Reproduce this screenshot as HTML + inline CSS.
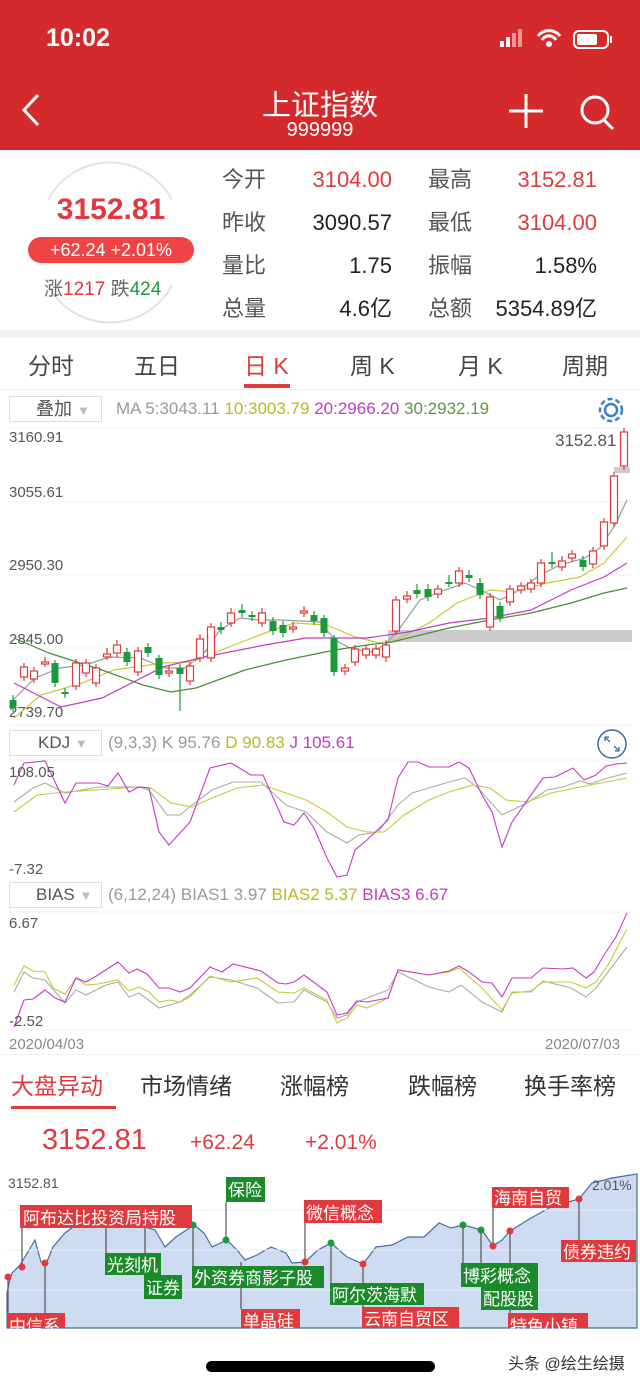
<!DOCTYPE html>
<html><head><meta charset="utf-8"><style>
*{margin:0;padding:0;box-sizing:border-box}
body{width:640px;height:1386px;background:#fff;font-family:"Liberation Sans","Noto Sans CJK SC",sans-serif;position:relative;overflow:hidden}
.a{position:absolute;white-space:nowrap}
</style></head><body>
<div class="a" style="left:0;top:0;width:640px;height:150px;background:#d42a2c"></div>
<div class="a" style="left:46px;top:24px;font-size:25px;color:#fff;font-weight:bold">10:02</div>
<svg class="a" style="left:500px;top:28px" width="120" height="24">
<rect x="0" y="13" width="4" height="6" fill="#fff"/><rect x="6" y="9" width="4" height="10" fill="#fff"/><rect x="12" y="5" width="4" height="14" fill="#fff" opacity=".5"/><rect x="18" y="1" width="4" height="18" fill="#fff" opacity=".5"/>
<path d="M38 8a14 14 0 0 1 22 0M42 12a8 8 0 0 1 14 0" stroke="#fff" stroke-width="3" fill="none"/><circle cx="49" cy="16" r="3" fill="#fff"/>
<rect x="74" y="3" width="34" height="17" rx="5" stroke="#fff" stroke-width="2" fill="none"/><rect x="77" y="6" width="20" height="11" rx="2" fill="#fff"/><rect x="110" y="8" width="2" height="7" fill="#fff"/></svg>
<svg class="a" style="left:18px;top:92px" width="30" height="36"><path d="M20 3L6 18l14 15" stroke="#fff" stroke-width="3" fill="none"/></svg>
<div class="a" style="left:0;width:640px;top:82px;text-align:center;font-size:29px;color:#fff">上证指数</div>
<div class="a" style="left:0;width:640px;top:119px;text-align:center;font-size:20px;color:#fff">999999</div>
<svg class="a" style="left:508px;top:92px" width="120" height="40"><path d="M18 2v34M1 19h34" stroke="#fff" stroke-width="3"/><circle cx="87" cy="18" r="13" stroke="#fff" stroke-width="3" fill="none"/><path d="M96 28l9 9" stroke="#fff" stroke-width="3"/></svg>

<svg class="a" style="left:30px;top:160px" width="160" height="165"><path d="M18 40A70 70 0 0 1 142 40M18 125A70 70 0 0 0 142 125" stroke="#e2e2e2" stroke-width="2" fill="none"/></svg>
<div class="a" style="left:0;width:222px;top:193px;text-align:center;font-size:30px;color:#e0393e;font-weight:bold">3152.81</div>
<div class="a" style="left:28px;top:237px;width:166px;height:26px;border-radius:13px;background:#ee4444;color:#fff;font-size:18px;text-align:center;line-height:26px">+62.24 +2.01%</div>
<div class="a" style="left:44px;top:274px;font-size:19px;color:#666">涨<span style="color:#e0393e">1217</span> 跌<span style="color:#1a9a3a">424</span></div>
<div class="a" style="left:222px;top:158px;font-size:22px;color:#555;line-height:43px">今开<br>昨收<br>量比<br>总量</div>
<div class="a" style="left:282px;width:110px;top:158px;font-size:22px;text-align:right;line-height:43px;color:#222"><span style="color:#e0393e">3104.00</span><br>3090.57<br>1.75<br>4.6亿</div>
<div class="a" style="left:428px;top:158px;font-size:22px;color:#555;line-height:43px">最高<br>最低<br>振幅<br>总额</div>
<div class="a" style="left:470px;width:127px;top:158px;font-size:22px;text-align:right;line-height:43px;color:#222"><span style="color:#e0393e">3152.81<br>3104.00</span><br>1.58%<br>5354.89亿</div>
<div class="a" style="left:0;top:330px;width:640px;height:8px;background:#f2f2f2"></div>
<div class="a" style="left:0;top:340px;width:640px;font-size:23px;color:#444">
<span class="a" style="left:28px;top:7px">分时</span><span class="a" style="left:134px;top:7px">五日</span><span class="a" style="left:244px;top:7px;color:#e0393e">日 K</span><span class="a" style="left:350px;top:7px">周 K</span><span class="a" style="left:458px;top:7px">月 K</span><span class="a" style="left:562px;top:7px">周期</span></div>
<div class="a" style="left:244px;top:384px;width:46px;height:4px;background:#e0393e"></div>
<div class="a" style="left:0;top:389px;width:640px;height:1px;background:#eee"></div>

<div class="a" style="left:9px;top:396px;width:93px;height:26px;border:1px solid #ddd;font-size:18px;color:#555;padding-left:26px;line-height:24px">叠加 <span style="color:#bbb;font-size:13px">▼</span></div>
<div class="a" style="left:116px;top:399px;font-size:17px;color:#999">MA 5:3043.11 <span style="color:#b9b91a">10:3003.79</span> <span style="color:#c23cc2">20:2966.20</span> <span style="color:#5a9a3a">30:2932.19</span></div>
<svg class="a" style="left:596px;top:395px" width="30" height="30"><circle cx="15" cy="15" r="6" stroke="#3a7fc8" stroke-width="2.5" fill="none"/><circle cx="15" cy="15" r="11" stroke="#3a7fc8" stroke-width="2.5" fill="none" stroke-dasharray="5 3"/></svg>

<svg class="a" style="left:0;top:0" width="640" height="1386" font-family="Liberation Sans" >
<g stroke="#f0f0f0" stroke-width="1"><path d="M9 428H632M9 502H632M9 575H632M9 648H632M9 725H632M9 760H632M9 912H632M9 1030H632"/></g>
<g font-size="15" fill="#555"><text x="9" y="442">3160.91</text><text x="9" y="497">3055.61</text><text x="9" y="570">2950.30</text><text x="9" y="644">2845.00</text><text x="9" y="717">2739.70</text><text x="555" y="446" font-size="17">3152.81</text></g>
<rect x="388" y="630" width="244" height="12" fill="#ccc"/><rect x="614" y="467" width="16" height="6" fill="#ccc"/>
<g fill="none" stroke-width="1.2">
<polyline stroke="#999" points="13,700 35,678 60,668 85,665 110,657 140,658 165,668 185,668 205,652 220,630 240,618 260,620 280,620 300,621 320,622 335,640 350,648 370,652 385,645 400,628 420,600 445,590 465,583 485,592 500,600 520,590 540,575 560,565 585,558 600,548 615,525 627,500"/>
<polyline stroke="#c8c83a" points="14,718 41,695 82,683 114,670 163,663 192,662 229,647 265,633 294,623 327,625 355,637 380,643 392,642 429,623 457,603 490,590 514,592 547,583 580,577 604,563 627,537"/>
<polyline stroke="#c23cc2" points="14,683 61,707 102,698 163,667 204,657 265,645 306,638 367,638 408,632 449,623 490,618 531,610 571,590 604,577 627,563"/>
<polyline stroke="#4a8a3a" points="14,638 49,653 102,670 143,685 171,692 196,688 245,670 286,660 335,650 367,645 392,642 449,628 490,620 531,613 571,603 604,593 627,588"/>
</g>
<g stroke="#e0393e" stroke-width="1.2"><path d="M24 663v18M34 667v16M45 657v10M76 659v31M86 659v18M96 664v23M107 648v12M117 640v17M138 647v29M169 665v12M190 662v23M200 634v28M211 623v39M231 608v19M262 608v19M293 622v11M304 606v11M345 664v11M355 645v21M366 645v14M376 645v14M386 640v22M396 596v39M407 591v12M438 585v13M459 567v20M490 593v38M510 585v21M521 582v12M531 579v14M541 559v28M562 556v15M572 550v12M593 547v21M604 518v32M614 472v55M624 428v42"/></g>
<g stroke="#1a9a3a" stroke-width="1.2"><path d="M13 695v17M55 660v27M65 688v10M127 648v18M148 643v14M159 655v24M180 664v47M221 622v12M242 604v13M252 611v10M273 617v18M283 621v16M314 611v14M324 615v22M334 635v41M417 584v14M428 584v17M449 575v12M469 570v12M480 578v21M500 602v20M552 552v16M583 556v15"/></g>
<g fill="#fff" stroke="#e0393e" stroke-width="1.2">
<rect x="20.5" y="667" width="7" height="10"/><rect x="30.5" y="671" width="7" height="8"/><rect x="41.5" y="662" width="7" height="2"/><rect x="72.5" y="663" width="7" height="23"/><rect x="82.5" y="663" width="7" height="10"/><rect x="92.5" y="668" width="7" height="15"/><rect x="103.5" y="654" width="7" height="3"/><rect x="113.5" y="645" width="7" height="8"/><rect x="134.5" y="651" width="7" height="21"/><rect x="165.5" y="671" width="7" height="2"/><rect x="186.5" y="666" width="7" height="15"/><rect x="196.5" y="639" width="7" height="19"/><rect x="207.5" y="627" width="7" height="31"/><rect x="227.5" y="613" width="7" height="10"/><rect x="258.5" y="613" width="7" height="10"/><rect x="289.5" y="627" width="7" height="2"/><rect x="300.5" y="611" width="7" height="2"/><rect x="341.5" y="668" width="7" height="3"/><rect x="351.5" y="649" width="7" height="13"/><rect x="362.5" y="649" width="7" height="6"/><rect x="372.5" y="649" width="7" height="6"/><rect x="382.5" y="645" width="7" height="12"/><rect x="392.5" y="600" width="7" height="31"/><rect x="403.5" y="596" width="7" height="3"/><rect x="434.5" y="589" width="7" height="5"/><rect x="455.5" y="571" width="7" height="12"/><rect x="486.5" y="597" width="7" height="30"/><rect x="506.5" y="589" width="7" height="13"/><rect x="517.5" y="586" width="7" height="4"/><rect x="527.5" y="583" width="7" height="6"/><rect x="537.5" y="563" width="7" height="20"/><rect x="558.5" y="561" width="7" height="6"/><rect x="568.5" y="554" width="7" height="4"/><rect x="589.5" y="551" width="7" height="13"/><rect x="600.5" y="522" width="7" height="24"/><rect x="610.5" y="476" width="7" height="47"/><rect x="620.5" y="432" width="7" height="34"/></g>
<g fill="#1a9a3a">
<rect x="9.5" y="700" width="7" height="8"/><rect x="51.5" y="663" width="7" height="20"/><rect x="61.5" y="692" width="7" height="2"/><rect x="123.5" y="652" width="7" height="10"/><rect x="144.5" y="647" width="7" height="6"/><rect x="155.5" y="658" width="7" height="17"/><rect x="176.5" y="668" width="7" height="6"/><rect x="217.5" y="627" width="7" height="3"/><rect x="238.5" y="610" width="7" height="3"/><rect x="248.5" y="615" width="7" height="2"/><rect x="269.5" y="621" width="7" height="10"/><rect x="279.5" y="625" width="7" height="8"/><rect x="310.5" y="615" width="7" height="6"/><rect x="320.5" y="618" width="7" height="15"/><rect x="330.5" y="638" width="7" height="34"/><rect x="413.5" y="590" width="7" height="4"/><rect x="424.5" y="589" width="7" height="8"/><rect x="445.5" y="582" width="7" height="2"/><rect x="465.5" y="575" width="7" height="3"/><rect x="476.5" y="583" width="7" height="12"/><rect x="496.5" y="606" width="7" height="12"/><rect x="548.5" y="562" width="7" height="2"/><rect x="579.5" y="560" width="7" height="7"/></g>

<g fill="none" stroke-width="1.1">
<polyline stroke="#aaa" points="14,802 33,788 45,783 65,793 98,787 139,787 149,790 167,815 180,815 192,805 212,790 233,782 261,782 286,805 306,812 327,832 347,843 359,835 378,832 398,805 412,793 449,782 465,778 478,788 502,815 527,803 547,790 563,787 580,781 590,784 608,778 627,773"/>
<polyline stroke="#c8c83a" points="14,812 37,795 65,792 139,787 151,788 171,803 192,807 212,798 237,788 263,785 286,793 306,800 327,812 347,827 367,832 384,832 404,815 429,800 449,792 473,785 490,788 506,800 527,802 551,793 580,787 627,778"/>
<polyline stroke="#c23cc2" points="14,785 24,763 45,761 65,803 76,783 98,783 108,786 118,773 129,792 139,787 149,788 159,832 169,845 190,822 210,768 231,763 251,775 263,775 284,822 294,825 304,813 314,828 327,858 337,877 347,875 355,850 367,840 388,820 398,778 408,762 418,762 429,767 449,767 459,762 469,768 482,795 492,812 502,847 512,822 531,795 543,778 555,777 563,773 573,768 584,780 596,775 606,766 616,764 627,763"/>
<polyline stroke="#aaa" points="14,992 24,972 33,978 45,980 65,1003 76,990 86,995 106,985 118,982 129,997 139,993 159,1008 180,1002 190,995 210,977 231,980 257,988 278,1003 294,1002 304,990 327,1002 337,1018 347,1015 357,1002 388,990 398,972 429,987 449,992 461,985 482,1002 502,1012 512,992 531,992 543,981 571,988 586,997 596,988 608,972 627,947"/>
<polyline stroke="#c8c83a" points="14,985 24,966 33,971 45,972 53,988 65,994 76,978 86,985 98,984 118,980 129,991 139,987 149,992 159,1002 169,1000 180,1002 190,997 210,976 231,982 257,978 278,992 294,993 304,988 327,1000 337,1023 347,1018 357,1005 367,1008 388,998 398,970 429,975 449,972 459,968 482,988 502,1010 512,993 531,991 543,982 571,982 586,988 596,982 608,965 627,929"/>
<polyline stroke="#c23cc2" points="14,1027 24,1000 33,999 45,990 55,998 65,1002 76,978 86,982 98,975 118,962 129,973 137,969 147,974 159,988 169,988 180,992 190,988 210,967 222,972 233,964 261,971 278,983 286,984 294,982 304,975 327,992 337,1015 347,1013 357,1001 367,1002 388,998 398,970 429,975 449,971 459,966 469,972 482,982 492,983 502,997 512,978 531,978 543,968 563,969 573,968 586,978 594,972 604,955 616,937 627,913"/>
</g>
<g font-size="15" fill="#555"><text x="9" y="777">108.05</text><text x="9" y="874">-7.32</text><text x="9" y="928">6.67</text><text x="9" y="1026">-2.52</text><text x="9" y="1049" fill="#888">2020/04/03</text><text x="545" y="1049" fill="#888">2020/07/03</text></g>
<circle cx="612" cy="744" r="14" stroke="#3a6a98" stroke-width="1.5" fill="none"/><path d="M605 737l5 5M605 737h4M605 737v4M619 751l-5-5M619 751h-4M619 751v-4" stroke="#3a6a98" stroke-width="1.3"/>

<path d="M7 1293L9 1283 12 1273 20 1265 29 1250 35 1240 41 1262 46 1264 53 1247 65 1233 73 1227 90 1225 106 1225 122 1225 139 1225 155 1230 165 1247 176 1237 194 1225 204 1233 212 1247 227 1240 237 1250 245 1260 257 1255 271 1247 286 1253 292 1263 305 1262 318 1250 331 1243 347 1257 363 1264 376 1247 392 1245 408 1237 424 1237 439 1223 451 1228 463 1225 482 1230 493 1246 502 1240 510 1231 531 1218 551 1207 579 1199 592 1183 612 1178 637 1174V1328H7Z" fill="#cddcf0" stroke="#4a6aa8" stroke-width="1.2"/>
<path d="M6 1210H636M6 1250H636M6 1290H636" stroke="#e8eef6"/>
<text x="8" y="1188" font-size="14" fill="#555">3152.81</text><text x="592" y="1190" font-size="14" fill="#555">2.01%</text>
<g stroke-width="1.2">
<path d="M8 1277V1328M22 1267V1216M45 1263V1313M106 1228V1253M145 1228V1275M193 1225V1266M226 1202V1240M241 1262V1309M305 1262V1223M331 1243V1283M363 1264V1307M463 1225V1263M481 1230V1287M493 1246V1207M510 1231V1320M579 1199V1240" stroke="#555"/>
</g>
<g fill="#e0393e"><circle cx="8" cy="1277" r="3.5"/><circle cx="22" cy="1267" r="3.5"/><circle cx="45" cy="1263" r="3.5"/><circle cx="305" cy="1262" r="3.5"/><circle cx="363" cy="1264" r="3.5"/><circle cx="493" cy="1246" r="3.5"/><circle cx="510" cy="1231" r="3.5"/><circle cx="579" cy="1199" r="3.5"/></g>
<g fill="#1a9a3a"><circle cx="193" cy="1225" r="3.5"/><circle cx="226" cy="1240" r="3.5"/><circle cx="331" cy="1243" r="3.5"/><circle cx="463" cy="1225" r="3.5"/><circle cx="481" cy="1230" r="3.5"/></g>
<g fill="#e0393e"><rect x="20" y="1205" width="172" height="23"/><rect x="304" y="1200" width="78" height="23"/><rect x="492" y="1187" width="77" height="21"/><rect x="561" y="1240" width="75" height="22"/><rect x="241" y="1309" width="59" height="19"/><rect x="362" y="1307" width="97" height="21"/><rect x="7" y="1313" width="58" height="15"/><rect x="508" y="1313" width="80" height="15"/></g>
<g fill="#1a8a2a"><rect x="226" y="1177" width="39" height="25"/><rect x="105" y="1253" width="56" height="22"/><rect x="144" y="1275" width="38" height="24"/><rect x="192" y="1266" width="132" height="22"/><rect x="330" y="1283" width="94" height="22"/><rect x="461" y="1263" width="77" height="24"/><rect x="481" y="1287" width="57" height="23"/></g>
<g fill="#fff" font-size="17" font-family="Liberation Sans,Noto Sans CJK SC,sans-serif">
<text x="23" y="1224">阿布达比投资局持股</text><text x="306" y="1219">微信概念</text><text x="494" y="1204">海南自贸</text><text x="563" y="1258">债券违约</text><text x="243" y="1327">单晶硅</text><text x="364" y="1325">云南自贸区</text><text x="9" y="1332">中信系</text><text x="510" y="1332">特色小镇</text>
<text x="228" y="1196">保险</text><text x="107" y="1271">光刻机</text><text x="146" y="1294">证券</text><text x="194" y="1284">外资券商影子股</text><text x="332" y="1301">阿尔茨海默</text><text x="463" y="1282">博彩概念</text><text x="483" y="1305">配股股</text></g>
</svg>
<div class="a" style="left:9px;top:882px;width:93px;height:26px;border:1px solid #ddd;font-size:17px;color:#555;padding-left:26px;line-height:24px">BIAS <span style="color:#bbb;font-size:13px">▼</span></div>
<div class="a" style="left:108px;top:885px;font-size:17px;color:#999">(6,12,24) BIAS1 3.97 <span style="color:#b9b91a">BIAS2 5.37</span> <span style="color:#c23cc2">BIAS3 6.67</span></div>
<div class="a" style="left:9px;top:730px;width:93px;height:26px;border:1px solid #ddd;font-size:17px;color:#555;padding-left:28px;line-height:24px">KDJ <span style="color:#bbb;font-size:13px">▼</span></div>
<div class="a" style="left:108px;top:733px;font-size:17px;color:#999">(9,3,3) K 95.76 <span style="color:#b9b91a">D 90.83</span> <span style="color:#c23cc2">J 105.61</span></div>
<div class="a" style="left:0;top:1054px;width:640px;height:1px;background:#eee"></div>
<div class="a" style="left:11px;top:1067px;font-size:23px;color:#e0393e">大盘异动</div>
<div class="a" style="left:11px;top:1106px;width:105px;height:3px;background:#e0393e"></div>
<div class="a" style="left:140px;top:1067px;font-size:23px;color:#333">市场情绪</div>
<div class="a" style="left:280px;top:1067px;font-size:23px;color:#333">涨幅榜</div>
<div class="a" style="left:408px;top:1067px;font-size:23px;color:#333">跌幅榜</div>
<div class="a" style="left:524px;top:1067px;font-size:23px;color:#333">换手率榜</div>
<div class="a" style="left:42px;top:1124px;font-size:29px;color:#e0393e">3152.81</div>
<div class="a" style="left:190px;top:1131px;font-size:21px;color:#e0393e">+62.24</div>
<div class="a" style="left:305px;top:1131px;font-size:21px;color:#e0393e">+2.01%</div>
<div class="a" style="left:206px;top:1361px;width:229px;height:11px;border-radius:6px;background:#000"></div>
<div class="a" style="left:508px;top:1350px;font-size:16px;color:#333">头条 @绘生绘摄</div>
</body></html>
